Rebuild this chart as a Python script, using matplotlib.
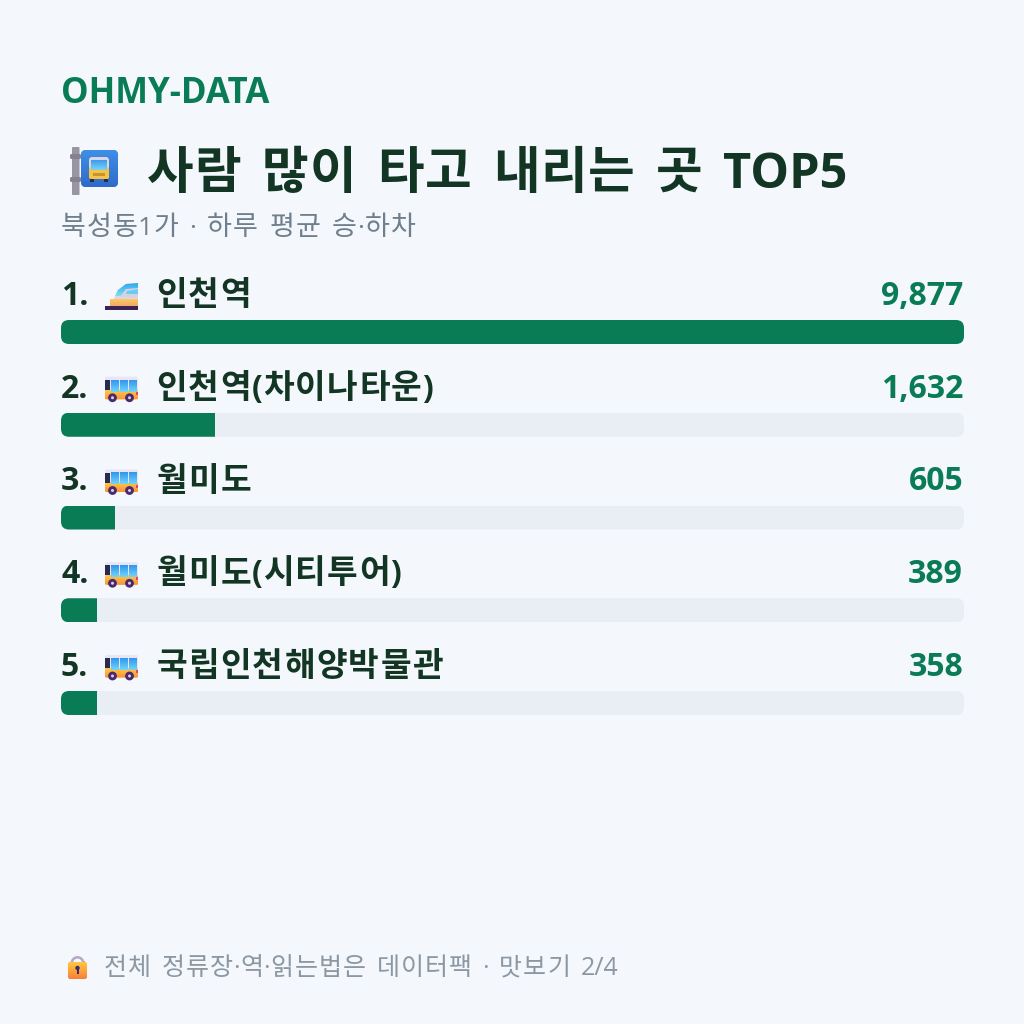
import numpy as np
import matplotlib
matplotlib.use("Agg")
import matplotlib.pyplot as plt
from matplotlib.font_manager import FontProperties
from matplotlib.patches import FancyBboxPatch, Circle, Polygon, Rectangle, Wedge
from matplotlib.colors import LinearSegmentedColormap
from matplotlib.textpath import TextToPath

ranks = ["1.", "2.", "3.", "4.", "5."]
stops = ["인천역", "인천역(차이나타운)", "월미도", "월미도(시티투어)", "국립인천해양박물관"]
riders = [9877, 1632, 605, 389, 358]
kinds = ["train", "bus", "bus", "bus", "bus"]

BG = "#F4F7FB"
GREEN = "#0A7C55"
DARK = "#123524"
GREY = "#6F7F8C"
TRACK = "#E9EDF4"

KR = "Noto Sans CJK KR"
LATIN = "Open Sans"
PX = 100 / 72

fig = plt.figure(figsize=(10.24, 10.24), dpi=100, facecolor=BG)

# pixel canvas for text and icons
ax = fig.add_axes([0, 0, 1, 1])
ax.set_xlim(0, 1024)
ax.set_ylim(1024, 0)
ax.axis("off")

measure = TextToPath()


def is_hangul(ch):
    return "\uac00" <= ch <= "\ud7a3"


def label(x, y, s, kr_size, lat_size, adv, space, weight, color):
    # hangul goes on a fixed advance, latin and digits in runs of their own font
    run = ""

    def flush(x):
        nonlocal run
        if run:
            ax.text(x, y, run, family=LATIN, fontsize=lat_size, fontweight=weight,
                    color=color, va="baseline")
            prop = FontProperties(family=LATIN, size=lat_size, weight=weight)
            w = measure.get_text_width_height_descent(run, prop, False)[0]
            x += w * PX
            run = ""
        return x

    for ch in s:
        if is_hangul(ch):
            x = flush(x)
            ax.text(x + adv / 2, y, ch, family=KR, fontsize=kr_size, fontweight=weight,
                    color=color, va="baseline", ha="center")
            x += adv
        elif ch == " ":
            x = flush(x) + space
        else:
            run += ch
    return flush(x)


def box(x, y, w, h, r, color, zorder=3):
    p = FancyBboxPatch((x, y), w, h, boxstyle=f"round,pad=0,rounding_size={r}",
                       fc=color, ec="none", zorder=zorder)
    ax.add_patch(p)
    return p


def gradient(x0, y0, x1, y1, c0, c1, clip=None, zorder=3):
    cmap = LinearSegmentedColormap.from_list("g", [c0, c1])
    im = ax.imshow(np.linspace(0, 1, 32).reshape(-1, 1), cmap=cmap, aspect="auto",
                   extent=(x0, x1, y1, y0), zorder=zorder, interpolation="bilinear")
    if clip is not None:
        im.set_clip_path(clip)
    return im


def draw_bus(x, y):
    # x, y is the top left corner of a 33x26 icon
    box(x, y, 33, 21, 2, "#EBE4F4")
    body = box(x, y + 13, 33, 9.5, 1.5, "#FFB83D", zorder=4)
    gradient(x, y + 13, x + 33, y + 23, "#FFC845", "#F7933A", clip=body, zorder=4)
    ax.add_patch(Rectangle((x, y + 3), 4.5, 10, fc="#2B2A4C", zorder=5))
    for wx in (6, 15, 24):
        gradient(x + wx, y + 3, x + wx + 7.5, y + 15, "#2F97EE", "#72D4FB", zorder=5)
    for wx in (7.5, 24.5):
        ax.add_patch(Circle((x + wx, y + 21), 4.4, fc="#4A2A6B", zorder=6))
        ax.add_patch(Circle((x + wx, y + 21), 1.5, fc="#D9CFE6", zorder=7))
    ax.add_patch(Rectangle((x + 31, y + 15), 2, 3, fc="#E8417A", zorder=6))


def draw_train(x, y):
    # sloped high speed nose over a dark rail base
    nose = Polygon([(x + 6, y + 22), (x + 13, y + 7), (x + 21, y + 1), (x + 33, y),
                    (x + 33, y + 22)], fc="#D8D8E6", ec="none", zorder=3)
    ax.add_patch(nose)
    gradient(x + 6, y, x + 33, y + 13, "#2FA7EE", "#7FDDF2", clip=nose, zorder=4)
    ax.add_patch(Polygon([(x + 15, y + 14), (x + 21, y + 6), (x + 33, y + 5), (x + 33, y + 15)],
                         fc="#D5D3E2", zorder=5))
    ax.add_patch(Polygon([(x + 22, y + 8), (x + 33, y + 6), (x + 33, y + 11), (x + 21, y + 11)],
                         fc="#6CCBF2", zorder=6))
    gradient(x + 5, y + 16, x + 33, y + 23, "#FFC95A", "#F2A96B", zorder=5)
    ax.add_patch(Rectangle((x, y + 23), 33, 4, fc="#3D2354", zorder=6))


def draw_stop_sign():
    sign = box(81, 150, 37, 37, 5, "#3A7FD9")
    gradient(81, 150, 118, 187, "#3F8FE6", "#2F6AC8", clip=sign, zorder=4)
    box(72, 147, 7.5, 48, 1, "#9A95A3", zorder=5)
    box(70, 154, 11, 5, 1.5, "#87828F", zorder=6)
    box(70, 177, 11, 5, 1.5, "#87828F", zorder=6)
    box(89, 157, 20, 22, 3, "#D9D6E3", zorder=5)
    box(89, 167, 20, 12, 2, "#F6C445", zorder=6)
    gradient(91, 160, 107, 170, "#3F9AEF", "#79D3F7", zorder=7)
    ax.add_patch(Rectangle((93, 173), 12, 3, fc="#C9942C", zorder=7))
    ax.add_patch(Rectangle((90, 179), 4, 2.5, fc="#2B2A4C", zorder=7))
    ax.add_patch(Rectangle((104, 179), 4, 2.5, fc="#2B2A4C", zorder=7))


def draw_lock():
    ax.add_patch(Wedge((77.5, 963), 7, 180, 360, width=2.6, fc="#B9A9C9", zorder=3))
    ax.add_patch(Rectangle((70.5, 961), 2.6, 4, fc="#B9A9C9", zorder=3))
    ax.add_patch(Rectangle((81.9, 961), 2.6, 4, fc="#B9A9C9", zorder=3))
    body = box(68, 962, 19, 17, 2.5, "#F9A03F", zorder=4)
    gradient(68, 962, 87, 979, "#FFC83D", "#F97F3C", clip=body, zorder=5)
    ax.add_patch(Circle((77.5, 968), 2.2, fc="#3D2A6B", zorder=6))
    ax.add_patch(Rectangle((76.5, 969), 2, 5, fc="#3D2A6B", zorder=6))


# header
ax.text(61, 103, "OHMY-DATA", family=LATIN, fontsize=25, fontweight="bold", color=GREEN,
        va="baseline")
draw_stop_sign()
label(146, 188, "사람 많이 타고 내리는 곳 TOP5", 36.5, 35, 47.7, 20, "bold", DARK)
label(60, 235, "북성동1가 · 하루 평균 승·하차", 19.5, 19, 26, 10.3, "normal", GREY)

# rows
PITCH = 92.75
TOP = 320
BAR_H = 24
LEFT = 61
WIDTH = 903

for i, (rank, name, val, kind) in enumerate(zip(ranks, stops, riders, kinds)):
    base = 305 + PITCH * i
    ax.text(LEFT, base, rank, family=LATIN, fontsize=23, fontweight="bold", color=DARK,
            va="baseline")
    if kind == "train":
        draw_train(105, base - 22)
    else:
        draw_bus(105, base - 21)
    label(155.5, base, name, 24, 23, 32, 8, "bold", DARK)
    ax.text(963, base, f"{val:,}", family=LATIN, fontsize=23, fontweight="bold", color=GREEN,
            va="baseline", ha="right")

# bars, sized as whole percent of the busiest stop
pct = [round(v / max(riders) * 100) for v in riders]
y_pos = np.arange(len(riders))
bar_frac = BAR_H / PITCH
bar_ax = fig.add_axes([LEFT / 1024, 1 - (TOP + PITCH * 4 + BAR_H) / 1024,
                       WIDTH / 1024, (PITCH * 4 + BAR_H) / 1024])
bar_ax.patch.set_alpha(0)
bar_ax.axis("off")
tracks = bar_ax.barh(y_pos, [100] * len(pct), height=bar_frac, color=TRACK, zorder=1)
fills = bar_ax.barh(y_pos, pct, height=bar_frac, color=GREEN, zorder=2)
bar_ax.set_xlim(0, 100)
bar_ax.set_ylim(4 + bar_frac / 2, -bar_frac / 2)

# round the track ends, the fill is cut by the same outline
for i, (t, f) in enumerate(zip(tracks, fills)):
    outline = FancyBboxPatch((LEFT, TOP + PITCH * i), WIDTH, BAR_H,
                             boxstyle="round,pad=0,rounding_size=8",
                             fc="none", ec="none", transform=ax.transData)
    ax.add_patch(outline)
    t.set_clip_path(outline)
    f.set_clip_path(outline)

# footer
draw_lock()
label(103, 975, "전체 정류장·역·읽는법은 데이터팩 · 맛보기 2/4", 18, 18, 24, 10, "normal", "#8B98A3")

ax.set_xlim(0, 1024)
ax.set_ylim(1024, 0)
fig.savefig("out.png", dpi=100, facecolor=BG)
